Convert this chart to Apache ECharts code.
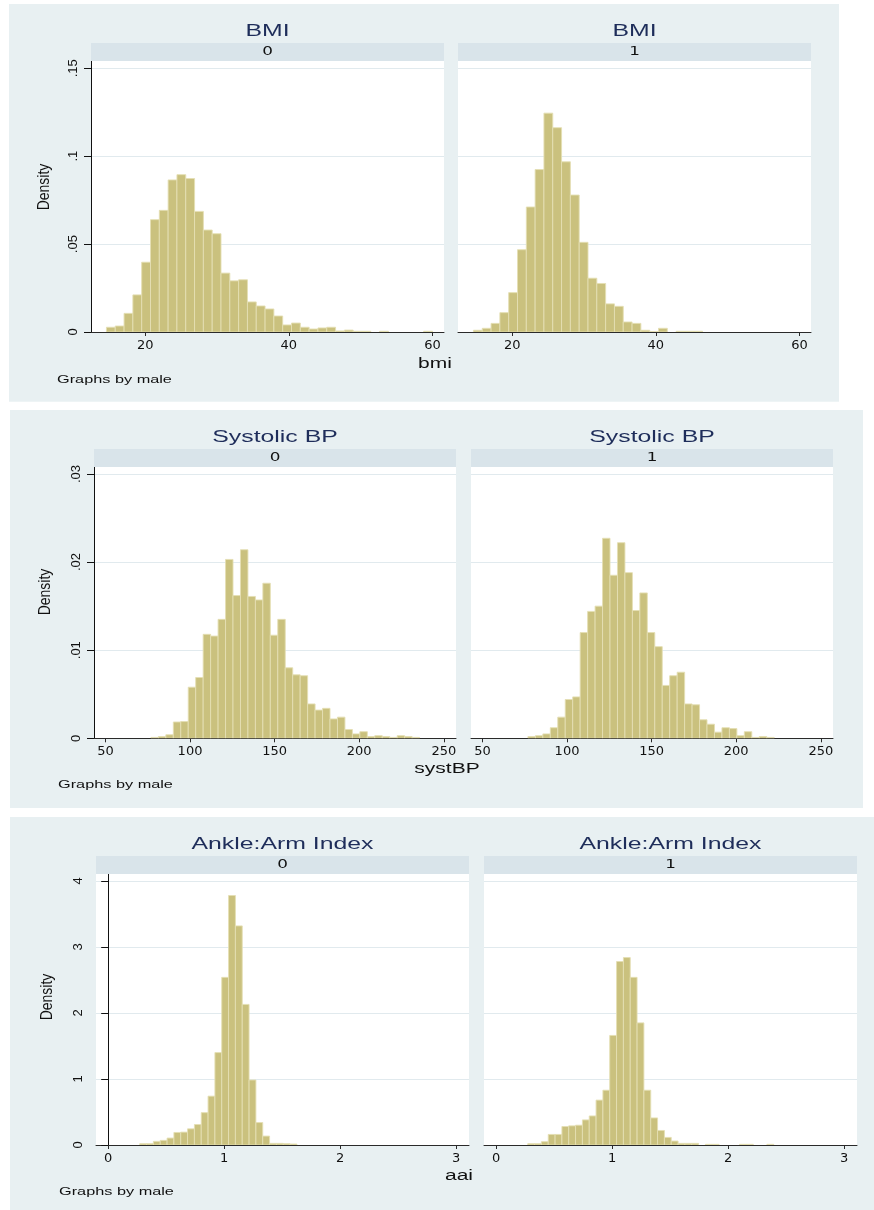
<!DOCTYPE html>
<html><head><meta charset="utf-8">
<script src="https://cdn.jsdelivr.net/npm/echarts@6/dist/echarts.min.js"></script>
<style>html,body{margin:0;padding:0;background:#fff;}#c{width:874px;height:1210px;}</style>
</head><body><div id="c"></div>
<script>
// ---------------- DATA ----------------
const groupLabels = ['0', '1'];

// BMI histogram (density), common bins
const bmiBinStart = 14.6;
const bmiBinWidth = 1.227;
const bmiDensity0 = [0.0027,0.0034,0.0106,0.0211,0.0397,0.0639,0.0692,0.0865,0.0895,0.0873,
  0.0686,0.058,0.0559,0.0335,0.0291,0.0297,0.0171,0.0148,0.0131,0.0091,
  0.004,0.0051,0.0027,0.0017,0.0023,0.0027,0.0006,0.0011,0.0004,0.0004,
  0,0.0004,0,0,0,0,0.0004];
const bmiDensity1 = [0.001,0.0021,0.0049,0.011,0.0224,0.0468,0.0711,0.0924,0.1245,0.1162,
  0.0968,0.0779,0.051,0.0306,0.0276,0.016,0.0146,0.0057,0.0049,0.001,
  0.0002,0.0021,0,0.0004,0.0004,0.0004,0,0,0,0,
  0,0,0,0,0,0,0];
const bmiXTicks = [20, 40, 60];
const bmiYTicks = [0, 0.05, 0.1, 0.15];

// Systolic BP histogram
const sbpBinStart = 76.9;
const sbpBinWidth = 4.41;
const sbpDensity0 = [0.0001,0.0002,0.0004,0.00185,0.0019,0.0058,0.0069,0.0118,0.0116,0.0135,
  0.0203,0.0162,0.0214,0.0161,0.0157,0.0176,0.0117,0.0135,0.008,0.0072,
  0.0071,0.0039,0.0032,0.0034,0.0022,0.0024,0.001,0.0005,0.00075,0.0002,
  0.0003,0.0002,0.0001,0.0003,0.0002,0.0001];
const sbpDensity1 = [0.0002,0.0003,0.0005,0.0012,0.0024,0.0044,0.0047,0.012,0.0144,0.015,
  0.0227,0.0185,0.0222,0.0188,0.0145,0.0165,0.012,0.0104,0.006,0.0071,
  0.0075,0.0039,0.0038,0.0021,0.0016,0.0007,0.0012,0.0011,0.0003,0.00075,
  0.0001,0.0002,0.0001,0,0,0];
const sbpXTicks = [50, 100, 150, 200, 250];
const sbpYTicks = [0, 0.01, 0.02, 0.03];

// Ankle:Arm Index histogram
const aaiBinStart = 0.272;
const aaiBinWidth = 0.0589;
const aaiDensity0 = [0.02,0.02,0.055,0.07,0.105,0.19,0.195,0.245,0.31,0.49,
  0.74,1.40,2.54,3.78,3.32,2.13,0.985,0.34,0.135,0.025,
  0.025,0.02,0.015,0,0,0,0,0,0,0,
  0,0,0,0,0,0];
const aaiDensity1 = [0.02,0.02,0.05,0.16,0.16,0.28,0.29,0.30,0.38,0.44,
  0.68,0.83,1.66,2.78,2.84,2.54,1.85,0.83,0.41,0.22,
  0.115,0.06,0.025,0.025,0.025,0,0.01,0.01,0,0,
  0,0.01,0.01,0,0,0.01];
const aaiXTicks = [0, 1, 2, 3];
const aaiYTicks = [0, 1, 2, 3, 4];

// ---------------- LAYOUT ----------------
const panels = [
  { title: 'BMI', xTitle: 'bmi', start: bmiBinStart, width: bmiBinWidth, dens: [bmiDensity0, bmiDensity1],
    xTicks: bmiXTicks, yTicks: bmiYTicks, xMin: 12.45, xMax: 61.6, yMax: 0.15415,
    bg: [9, 4, 830, 397.7], grids: [[91, 61, 353, 271], [458, 61, 353, 271]],
    xTitlePos: [435, 364], byPos: [57, 379.5], densPos: [45, 187] },
  { title: 'Systolic BP', xTitle: 'systBP', start: sbpBinStart, width: sbpBinWidth, dens: [sbpDensity0, sbpDensity1],
    xTicks: sbpXTicks, yTicks: sbpYTicks, xMin: 43.25, xMax: 257.2, yMax: 0.03079,
    bg: [10, 410, 853, 398], grids: [[94, 467, 362, 271.3], [471, 467, 362, 271.3]],
    xTitlePos: [447, 769], byPos: [58, 785], densPos: [46, 592] },
  { title: 'Ankle:Arm Index', xTitle: 'aai', start: aaiBinStart, width: aaiBinWidth, dens: [aaiDensity0, aaiDensity1],
    xTicks: aaiXTicks, yTicks: aaiYTicks, xMin: -0.105, xMax: 3.11, yMax: 4.106,
    bg: [10, 817, 864, 393], grids: [[96, 874, 373, 271], [484, 874, 373, 271]],
    xTitlePos: [459, 1176], byPos: [59, 1192], densPos: [47.5, 997] }
];

const BG = '#e8f0f2', STRIP = '#d9e4ea', TITLE = '#1e2d5a', BAR = '#cac17e', BAR_EDGE = '#e4dfb3', GRIDLINE = '#e1eaee';
const FONT = '"Liberation Sans", Arial, sans-serif';

function stataFmt(v) {
  if (Math.abs(v) < 1e-12) return '0';
  return String(+v.toFixed(4)).replace(/^0\./, '.');
}

const grid = [], xAxis = [], yAxis = [], series = [], graphic = [];
let gi = 0;
panels.forEach((p) => {
  graphic.push({ type: 'rect', z: -10, shape: { x: p.bg[0], y: p.bg[1], width: p.bg[2], height: p.bg[3] }, style: { fill: BG } });
  p.grids.forEach((g, k) => {
    const [left, top, w, h] = g;
    grid.push({ left, top, width: w, height: h, show: true, backgroundColor: '#fff', borderWidth: 0, containLabel: false });
    xAxis.push({
      type: 'value', gridIndex: gi, min: p.xMin, max: p.xMax,
      axisLine: { show: true, onZero: false, lineStyle: { color: '#2a2a2a', width: 1 } },
      axisTick: { show: true, length: 4, lineStyle: { color: '#2a2a2a' }, customValues: p.xTicks },
      axisLabel: { show: true, customValues: p.xTicks, margin: 7, fontSize: 13, color: '#111', fontFamily: '"DejaVu Sans", sans-serif' },
      splitLine: { show: false }
    });
    const yi = p.yTicks[1] - p.yTicks[0];
    yAxis.push({
      type: 'value', gridIndex: gi, min: 0, max: p.yMax, interval: yi,
      axisLine: { show: k === 0, lineStyle: { color: '#111', width: 1 } },
      axisTick: { show: k === 0, length: 7, lineStyle: { color: '#111' }, customValues: p.yTicks },
      axisLabel: { show: k === 0, customValues: p.yTicks, rotate: 90, margin: 11, fontSize: 13, color: '#111',
        fontFamily: FONT, formatter: stataFmt },
      splitLine: { show: true, lineStyle: { color: GRIDLINE, width: 1 } }
    });
    const dens = p.dens[k];
    const data = dens.map((d, i) => [p.start + i * p.width, p.start + (i + 1) * p.width, d]);
    series.push({
      type: 'custom', xAxisIndex: gi, yAxisIndex: gi, clip: true, data,
      encode: { x: [0, 1], y: 2 },
      renderItem: (params, api) => {
        const hv = api.value(2);
        if (!(hv > 0)) return null;
        const a = api.coord([api.value(0), hv]);
        const b = api.coord([api.value(1), 0]);
        return { type: 'rect', shape: { x: a[0], y: a[1], width: b[0] - a[0], height: b[1] - a[1] },
          style: { fill: BAR, stroke: BAR_EDGE, lineWidth: 0.9 } };
      }
    });
    // strip + titles
    graphic.push({ type: 'rect', z: 5, shape: { x: left, y: top - 18, width: w, height: 18 }, style: { fill: STRIP } });
    graphic.push({ type: 'text', z: 6, x: left + w / 2, y: top - 9, scaleX: 1.4,
      style: { text: groupLabels[k], fill: '#111', font: '12px "DejaVu Sans", sans-serif', textAlign: 'center', textVerticalAlign: 'middle' } });
    graphic.push({ type: 'text', z: 6, x: left + w / 2, y: top - 29, scaleX: 1.55,
      style: { text: p.title, fill: TITLE, font: '16px ' + FONT, textAlign: 'center', textVerticalAlign: 'middle' } });
    gi++;
  });
  graphic.push({ type: 'text', z: 6, x: p.xTitlePos[0], y: p.xTitlePos[1], scaleX: 1.5,
    style: { text: p.xTitle, fill: '#111', font: '14px ' + FONT, textAlign: 'center', textVerticalAlign: 'middle' } });
  graphic.push({ type: 'text', z: 6, x: p.byPos[0], y: p.byPos[1], scaleX: 1.48,
    style: { text: 'Graphs by male', fill: '#111', font: '11px ' + FONT, textAlign: 'left', textVerticalAlign: 'middle' } });
  graphic.push({ type: 'text', z: 6, x: p.densPos[0], y: p.densPos[1], rotation: Math.PI / 2, scaleY: 1.15,
    style: { text: 'Density', fill: '#111', font: '14px ' + FONT, textAlign: 'center', textVerticalAlign: 'middle' } });
});

const chart = echarts.init(document.getElementById('c'), null, { renderer: 'canvas' });
chart.setOption({ animation: false, backgroundColor: '#fff', grid, xAxis, yAxis, series, graphic });
</script></body></html>
